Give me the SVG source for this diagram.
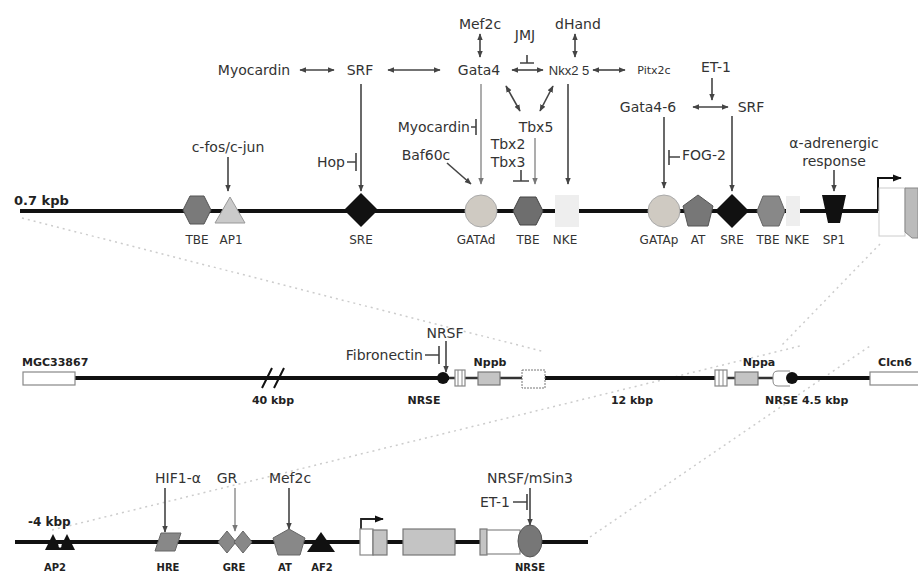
<svg xmlns="http://www.w3.org/2000/svg" width="918" height="576" viewBox="0 0 918 576">
<style>
.f{font-family:"DejaVu Sans","Liberation Sans",sans-serif;font-size:14px;fill:#333;text-anchor:middle}
.s{font-family:"DejaVu Sans","Liberation Sans",sans-serif;font-size:12px;fill:#333;text-anchor:middle}
.b{font-family:"DejaVu Sans","Liberation Sans",sans-serif;font-size:11px;font-weight:bold;fill:#222;text-anchor:middle}
.bl{font-family:"DejaVu Sans","Liberation Sans",sans-serif;font-size:10px;font-weight:bold;fill:#222;text-anchor:middle}
.ar{stroke:#444;stroke-width:1.6;fill:none}
.lt{stroke:#999;stroke-width:1.6;fill:none}
.dna{stroke:#111;stroke-width:4;fill:none}
.thin{stroke:#333;stroke-width:2.5;fill:none}
.zoom{stroke:#ccc;stroke-width:1.5;stroke-dasharray:2 4;fill:none}
.blk{fill:#111}
.ex{fill:#fff;stroke:#888;stroke-width:1.2}
.gx{fill:#c4c4c4;stroke:#777;stroke-width:1.2}
</style>
<defs>
<marker id="ah" viewBox="0 0 10 10" refX="9" refY="5" markerWidth="7" markerHeight="7" markerUnits="userSpaceOnUse" orient="auto-start-reverse"><path d="M0,1 L10,5 L0,9 z" fill="#444"/></marker>
<marker id="ahl" viewBox="0 0 10 10" refX="9" refY="5" markerWidth="7" markerHeight="7" markerUnits="userSpaceOnUse" orient="auto-start-reverse"><path d="M0,1 L10,5 L0,9 z" fill="#777"/></marker>
<marker id="ahp" viewBox="0 0 10 10" refX="9" refY="5" markerWidth="9" markerHeight="9" markerUnits="userSpaceOnUse" orient="auto"><path d="M0,1 L10,5 L0,9 z" fill="#111"/></marker>
</defs>

<!-- faint zoom lines -->
<g id="zoom-lines">
<path class="zoom" d="M22,218 L545,352"/>
<path class="zoom" d="M880,244 L782,345"/>
<path class="zoom" d="M52,530 L800,346"/>
<path class="zoom" d="M590,537 L870,346"/>
</g>

<!-- DNA lines -->
<g id="dna">
<path class="dna" d="M20,211 L878,211"/>
<path class="dna" d="M75,378 L449,378"/>
<path class="thin" d="M449,378 L522,378"/>
<path class="dna" d="M545,378 L715,378"/>
<path class="thin" d="M715,378 L792,378"/>
<path class="dna" d="M792,378 L870,378"/>
<path class="dna" d="M15,542 L588,542"/>
</g>

<!-- connectors -->
<g id="connectors">
<line class="ar" x1="300" y1="70" x2="334" y2="70" marker-start="url(#ah)" marker-end="url(#ah)"/>
<line class="ar" x1="388" y1="70" x2="440" y2="70" marker-start="url(#ah)" marker-end="url(#ah)"/>
<line class="ar" x1="480" y1="34" x2="480" y2="57" marker-start="url(#ah)" marker-end="url(#ah)"/>
<line class="ar" x1="575" y1="34" x2="575" y2="57" marker-start="url(#ah)" marker-end="url(#ah)"/>
<path class="ar" d="M527,55 L527,63 M520,63 L534,63"/>
<line class="ar" x1="512" y1="70" x2="543" y2="70" marker-start="url(#ah)" marker-end="url(#ah)"/>
<line class="ar" x1="593" y1="70" x2="625" y2="70" marker-start="url(#ah)" marker-end="url(#ah)"/>
<line class="ar" x1="506" y1="86" x2="520" y2="111" marker-start="url(#ah)" marker-end="url(#ah)"/>
<line class="ar" x1="553" y1="86" x2="540" y2="111" marker-start="url(#ah)" marker-end="url(#ah)"/>
<path class="ar" d="M471,127 L476,127 M476,119 L476,135"/>
<line class="lt" x1="481" y1="84" x2="481" y2="184" marker-end="url(#ahl)"/>
<line class="lt" x1="535" y1="138" x2="535" y2="184" marker-end="url(#ahl)"/>
<path class="ar" d="M521,170 L521,181 M513,181 L529,181"/>
<line class="ar" x1="568" y1="84" x2="568" y2="184" marker-end="url(#ah)"/>
<line class="ar" x1="447" y1="163" x2="471" y2="184" marker-end="url(#ah)"/>
<line class="ar" x1="361" y1="84" x2="361" y2="191" marker-end="url(#ah)"/>
<path class="ar" d="M347,162 L356,162 M356,153 L356,171"/>
<line class="ar" x1="228" y1="157" x2="228" y2="191" marker-end="url(#ah)"/>
<line class="ar" x1="712" y1="78" x2="712" y2="100" marker-end="url(#ah)"/>
<line class="ar" x1="693" y1="107" x2="728" y2="107" marker-start="url(#ah)" marker-end="url(#ah)"/>
<line class="ar" x1="664" y1="117" x2="664" y2="188" marker-end="url(#ah)"/>
<path class="ar" d="M669,150 L669,165 M669,157 L680,157"/>
<line class="ar" x1="732" y1="116" x2="732" y2="191" marker-end="url(#ah)"/>
<line class="ar" x1="834" y1="170" x2="834" y2="191" marker-end="url(#ah)"/>
<line class="ar" x1="446" y1="341" x2="446" y2="372" marker-end="url(#ah)"/>
<path class="ar" d="M425,355 L439,355 M439,346 L439,364"/>
<line class="ar" x1="165" y1="488" x2="165" y2="532" marker-end="url(#ah)"/>
<line class="lt" x1="235" y1="488" x2="235" y2="531" marker-end="url(#ahl)"/>
<line class="ar" x1="289" y1="488" x2="289" y2="529" marker-end="url(#ah)"/>
<line class="ar" x1="530" y1="488" x2="530" y2="525" marker-end="url(#ah)"/>
<path class="ar" d="M513,502 L527,502 M527,494 L527,510"/>
<path d="M361,530 L361,519 L383,519" stroke="#222" stroke-width="1.8" fill="none" marker-end="url(#ahp)"/>
<path d="M878,211 L878,178 L901,178" stroke="#111" stroke-width="2" fill="none" marker-end="url(#ahp)"/>
</g>

<!-- top regulators -->
<g id="n-myocardin"><text class="f" x="254" y="75">Myocardin</text></g>
<g id="n-srf"><text class="f" x="360" y="75">SRF</text></g>
<g id="n-gata4"><text class="f" x="479" y="75">Gata4</text></g>
<g id="n-mef2c"><text class="f" x="480" y="29">Mef2c</text></g>
<g id="n-jmj"><text class="f" x="525" y="40">JMJ</text></g>
<g id="n-dhand"><text class="f" x="578" y="29">dHand</text></g>
<g id="n-nkx25"><text class="f" x="569" y="75" style="font-family:'Liberation Sans',Arial,sans-serif;font-size:13px">Nkx2 5</text></g>
<g id="n-pitx2c"><text class="f" x="654" y="74" style="font-size:11px">Pitx2c</text></g>
<g id="n-et1"><text class="f" x="716" y="72">ET-1</text></g>
<g id="n-gata46"><text class="f" x="648" y="112">Gata4-6</text></g>
<g id="n-srf2"><text class="f" x="751" y="112">SRF</text></g>
<g id="n-tbx5"><text class="f" x="536" y="132">Tbx5</text></g>
<g id="n-myocardin2"><text class="f" x="470" y="132" style="text-anchor:end">Myocardin</text></g>
<g id="n-tbx23"><text class="f" x="508" y="149">Tbx2</text><text class="f" x="508" y="167">Tbx3</text></g>
<g id="n-baf60c"><text class="f" x="426" y="160">Baf60c</text></g>
<g id="n-cfos"><text class="f" x="228" y="152">c-fos/c-jun</text></g>
<g id="n-hop"><text class="f" x="345" y="167" style="text-anchor:end">Hop</text></g>
<g id="n-fog2"><text class="f" x="682" y="160" style="text-anchor:start">FOG-2</text></g>
<g id="n-adrenergic"><text class="f" x="834" y="148">α-adrenergic</text><text class="f" x="834" y="166">response</text></g>
<g id="n-07kpb"><text class="b" x="14" y="205" style="text-anchor:start;font-size:13px">0.7 kpb</text></g>

<!-- top elements -->
<g id="e-tbe1"><polygon points="183,210 190,196 204,196 211,210 204,224 190,224" fill="#7a7a7a" stroke="#555"/><text class="s" x="197" y="244">TBE</text></g>
<g id="e-ap1"><polygon points="230,197 245,223 215,223" fill="#cacaca" stroke="#999"/><text class="s" x="231" y="244">AP1</text></g>
<g id="e-sre1"><polygon points="361,193 378,210 361,227 344,210" class="blk"/><text class="s" x="361" y="244">SRE</text></g>
<g id="e-gatad"><circle cx="481" cy="211" r="16" fill="#cfcac2" stroke="#aaa"/><text class="s" x="476" y="244">GATAd</text></g>
<g id="e-tbe2"><polygon points="513,211 520,197 536,197 543,211 536,225 520,225" fill="#6e6e6e" stroke="#444"/><text class="s" x="528" y="244">TBE</text></g>
<g id="e-nke1"><rect x="555" y="195" width="24" height="32" fill="#eeeeee"/><text class="s" x="565" y="244">NKE</text></g>
<g id="e-gatap"><circle cx="664" cy="211" r="16" fill="#cfcac2" stroke="#aaa"/><text class="s" x="659" y="244">GATAp</text></g>
<g id="e-at1"><polygon points="698,195 713,206 708,226 688,226 683,206" fill="#777" stroke="#555"/><text class="s" x="698" y="244">AT</text></g>
<g id="e-sre2"><polygon points="732,194 749,211 732,228 715,211" class="blk"/><text class="s" x="732" y="244">SRE</text></g>
<g id="e-tbe3"><polygon points="757,211 763,196 779,196 785,211 779,226 763,226" fill="#888" stroke="#666"/><text class="s" x="768" y="244">TBE</text></g>
<g id="e-nke2"><rect x="786" y="196" width="14" height="30" fill="#eeeeee"/><text class="s" x="797" y="244">NKE</text></g>
<g id="e-sp1"><polygon points="822,195 846,195 840,223 828,223" class="blk"/><text class="s" x="834" y="244">SP1</text></g>
<g id="e-gene-top"><rect x="879" y="188" width="26" height="48" fill="#fff" stroke="#ccc"/><polygon points="905,188 918,188 918,238 912,238 905,232" fill="#bbb" stroke="#888"/></g>

<!-- middle locus -->
<g id="m-mgc"><rect x="23" y="372" width="52" height="13" class="ex"/><text class="b" x="22" y="366" style="text-anchor:start">MGC33867</text></g>
<g id="m-break"><path d="M262,388 L272,368 M274,388 L284,368" stroke="#111" stroke-width="2"/><text class="b" x="273" y="404">40 kbp</text></g>
<g id="m-nrse1"><circle cx="443" cy="378" r="6" class="blk"/><text class="b" x="424" y="404">NRSE</text></g>
<g id="m-nrsf"><text class="f" x="445" y="338">NRSF</text></g>
<g id="m-fibronectin"><text class="f" x="423" y="360" style="text-anchor:end">Fibronectin</text></g>
<g id="m-nppb"><rect x="455" y="370" width="10" height="16" class="ex"/><path d="M458,370 L458,386 M462,370 L462,386" stroke="#888"/><rect x="478" y="372" width="22" height="13" class="gx"/><rect x="522" y="370" width="23" height="18" fill="#fff" stroke="#777" stroke-dasharray="2 1"/><text class="b" x="490" y="366">Nppb</text></g>
<g id="m-12kbp"><text class="b" x="632" y="404">12 kbp</text></g>
<g id="m-nppa"><rect x="715" y="370" width="12" height="16" class="ex"/><path d="M719,370 L719,386 M723,370 L723,386" stroke="#888"/><rect x="735" y="372" width="23" height="13" class="gx"/><path d="M790,371 L778,371 Q773,371 773,376 L773,381 Q773,386 778,386 L790,386" fill="#fff" stroke="#888"/><circle cx="792" cy="378" r="6" class="blk"/><text class="b" x="759" y="366">Nppa</text></g>
<g id="m-nrse2"><text class="b" x="765" y="404" style="text-anchor:start">NRSE  4.5 kbp</text></g>
<g id="m-clcn6"><rect x="870" y="372" width="50" height="13" class="ex"/><text class="b" x="895" y="366">Clcn6</text></g>

<!-- bottom locus -->
<g id="b-4kbp"><text class="b" x="28" y="526" style="text-anchor:start;font-size:12px">-4 kbp</text></g>
<g id="b-ap2"><polygon points="45,550 53,534 61,550" class="blk"/><polygon points="59,550 67,534 75,550" class="blk"/><circle cx="60" cy="546" r="1.5" fill="#fff"/><text class="bl" x="55" y="571">AP2</text></g>
<g id="b-hre"><polygon points="161,533 181,533 175,551 155,551" fill="#888" stroke="#666"/><text class="bl" x="168" y="571">HRE</text></g>
<g id="b-gre"><polygon points="227,531 236,542 227,553 218,542" fill="#888" stroke="#666"/><polygon points="243,531 252,542 243,553 234,542" fill="#888" stroke="#666"/><text class="bl" x="234" y="571">GRE</text></g>
<g id="b-at"><polygon points="289,529 305,538 300,555 278,555 273,538" fill="#888" stroke="#666"/><text class="bl" x="285" y="571">AT</text></g>
<g id="b-af2"><polygon points="321,532 335,552 307,552" class="blk"/><text class="bl" x="322" y="571">AF2</text></g>
<g id="b-hif"><text class="f" x="178" y="483">HIF1-α</text></g>
<g id="b-gr"><text class="f" x="227" y="483">GR</text></g>
<g id="b-mef2c"><text class="f" x="290" y="483">Mef2c</text></g>
<g id="b-gene"><rect x="360" y="529" width="13" height="26" class="ex"/><rect x="373" y="530" width="14" height="25" class="gx"/><rect x="403" y="529" width="52" height="26" class="gx"/><rect x="480" y="529" width="7" height="26" class="gx"/><rect x="487" y="530" width="33" height="24" class="ex"/></g>
<g id="b-nrse"><ellipse cx="530" cy="541" rx="12" ry="16" fill="#777" stroke="#555"/><text class="bl" x="530" y="571">NRSE</text></g>
<g id="b-nrsf"><text class="f" x="530" y="483">NRSF/mSin3</text></g>
<g id="b-et1"><text class="f" x="495" y="507">ET-1</text></g>
</svg>
